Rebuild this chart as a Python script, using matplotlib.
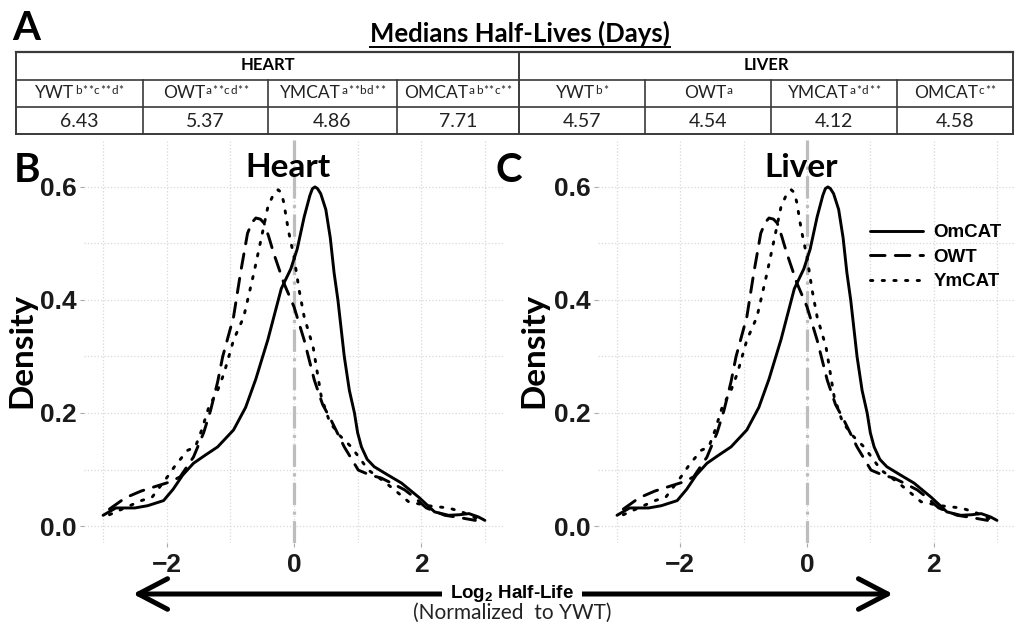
import matplotlib
matplotlib.use("Agg")
import matplotlib.pyplot as plt
from matplotlib.offsetbox import TextArea, HPacker, AnnotationBbox

# ---------------------------------------------------------------- data
groups = ["YWT", "OWT", "YMCAT", "OMCAT"]
heart_marks = ["b**c**d*", "a**cd**", "a**bd**", "ab**c**"]
liver_marks = ["b*", "a", "a*d**", "c**"]
heart_medians = [6.43, 5.37, 4.86, 7.71]
liver_medians = [4.57, 4.54, 4.12, 4.58]

# density of log2 half-life (normalised to YWT)
omcat_x = [-3.0, -2.8, -2.5, -2.3, -2.05, -1.9, -1.75, -1.58, -1.4, -1.2, -0.95,
           -0.76, -0.6, -0.41, -0.2, -0.05, 0.05, 0.16, 0.25, 0.29, 0.33, 0.37,
           0.42, 0.5, 0.57, 0.63, 0.69, 0.79, 0.87, 0.95, 1.0, 1.06, 1.15, 1.26,
           1.45, 1.69, 1.96, 2.21, 2.43, 2.6, 2.75, 2.9, 3.0]
omcat_y = [0.019, 0.032, 0.032, 0.036, 0.045, 0.065, 0.09, 0.111, 0.125, 0.14, 0.17,
           0.21, 0.26, 0.33, 0.42, 0.455, 0.49, 0.547, 0.585, 0.597, 0.6, 0.597,
           0.588, 0.56, 0.51, 0.448, 0.4, 0.3, 0.24, 0.2, 0.165, 0.14, 0.118, 0.105,
           0.092, 0.076, 0.051, 0.025, 0.019, 0.02, 0.022, 0.016, 0.01]

owt_x = [-2.9, -2.65, -2.4, -2.15, -1.95, -1.79, -1.58, -1.42, -1.31, -1.2, -1.12,
         -0.95, -0.84, -0.73, -0.66, -0.6, -0.53, -0.47, -0.4, -0.32, -0.16, 0.0,
         0.16, 0.32, 0.45, 0.58, 0.79, 1.01, 1.2, 1.37, 1.55, 1.74, 1.9, 2.08,
         2.37, 2.6, 2.85]
owt_y = [0.03, 0.05, 0.062, 0.071, 0.078, 0.087, 0.122, 0.165, 0.205, 0.255, 0.3,
         0.37, 0.448, 0.518, 0.537, 0.545, 0.543, 0.536, 0.513, 0.483, 0.43, 0.388,
         0.329, 0.258, 0.215, 0.188, 0.14, 0.099, 0.09, 0.085, 0.075, 0.064, 0.05,
         0.032, 0.019, 0.015, 0.01]

ymcat_x = [-2.9, -2.6, -2.4, -2.23, -1.99, -1.86, -1.67, -1.55, -1.45, -1.34, -1.2,
           -1.1, -0.95, -0.79, -0.63, -0.52, -0.41, -0.33, -0.25, -0.2, -0.16, -0.09,
           0.0, 0.08, 0.16, 0.3, 0.43, 0.56, 0.72, 0.9, 1.17, 1.4, 1.58, 1.8, 2.1,
           2.43, 2.64, 2.9]
ymcat_y = [0.02, 0.035, 0.045, 0.051, 0.087, 0.108, 0.134, 0.14, 0.17, 0.21, 0.24,
           0.27, 0.329, 0.37, 0.448, 0.506, 0.565, 0.585, 0.595, 0.59, 0.572, 0.524,
           0.476, 0.418, 0.37, 0.317, 0.228, 0.184, 0.16, 0.14, 0.099, 0.08, 0.064,
           0.043, 0.036, 0.032, 0.025, 0.012]

series = [("OmCAT", omcat_x, omcat_y, "-"),
          ("OWT", owt_x, owt_y, (0, (5, 3.5))),
          ("YmCAT", ymcat_x, ymcat_y, (0, (0.8, 3.2)))]

x_major = [-2, 0, 2]
x_minor = [-3, -1, 1, 3]
y_major = [0.0, 0.2, 0.4, 0.6]
y_minor = [0.1, 0.3, 0.5]

# ---------------------------------------------------------------- style
plt.rcParams["mathtext.fontset"] = "custom"
plt.rcParams["mathtext.rm"] = "Liberation Sans"
plt.rcParams["mathtext.bf"] = "Liberation Sans:bold"

SANS = "Lato"
ARIAL = "Liberation Sans"
INK = "#222222"
W, H = 1015, 628
fig = plt.figure(figsize=(W / 100, H / 100), dpi=100)

# pixel-space layer for the table, labels and the arrow
ov = fig.add_axes([0, 0, 1, 1], zorder=5)
ov.set_xlim(0, W)
ov.set_ylim(H, 0)
ov.axis("off")

# ---------------------------------------------------------------- panel A: table
ov.text(12, 40, "A", fontsize=29, fontweight="bold", family=SANS, va="baseline")
title = ov.text(520, 42, "Medians Half-Lives (Days)", fontsize=18.5, fontweight="bold",
                family=SANS, ha="center", va="baseline")
renderer = fig.canvas.get_renderer()
bb = title.get_window_extent(renderer).transformed(ov.transData.inverted())
ov.plot([bb.x0, bb.x1], [47, 47], color="black", lw=1.4)

top, r1, r2, bot = 52, 80, 107, 134
heart_cols = [16, 143, 268, 397, 519]
liver_cols = [519, 645, 771, 897, 1013]
lc = "#3a3a3a"
ov.plot([16, 1013], [top, top], color=lc, lw=1.6)
for y in (r1, r2):
    ov.plot([16, 1013], [y, y], color=lc, lw=1.2)
ov.plot([16, 1013], [bot, bot], color=lc, lw=1.4)
ov.plot([16, 16], [top, bot], color=lc, lw=1.4)
ov.plot([1013, 1013], [top, bot], color=lc, lw=1.4)
ov.plot([519, 519], [top, bot], color=lc, lw=1.4)
for cols in (heart_cols, liver_cols):
    for x in cols[1:-1]:
        ov.plot([x, x], [r1, bot], color=lc, lw=1.2)


def group_label(name, marks):
    """Group name followed by its significance superscript."""
    parts = [TextArea(name, textprops=dict(fontsize=12.5, family=SANS, color=INK))]
    sup = [TextArea(ch, textprops=dict(fontsize=8.5, family=SANS, color=INK)) for ch in marks]
    parts.append(HPacker(children=sup, align="top", pad=0, sep=0.5))
    return HPacker(children=parts, align="top", pad=0, sep=0.3)


for name, cols, marks, vals in (("HEART", heart_cols, heart_marks, heart_medians),
                                ("LIVER", liver_cols, liver_marks, liver_medians)):
    ov.text((cols[0] + cols[-1]) / 2, (top + r1) / 2 - 1, name, fontsize=12,
            fontweight="bold", family=SANS, ha="center", va="center")
    for i, (g, m, v) in enumerate(zip(groups, marks, vals)):
        cx = (cols[i] + cols[i + 1]) / 2
        ov.add_artist(AnnotationBbox(group_label(g, m), (cx, (r1 + r2) / 2 - 0.5),
                                     xycoords="data", frameon=False,
                                     box_alignment=(0.5, 0.5), pad=0))
        ov.text(cx, (r2 + bot) / 2 + 1, f"{v:.2f}", fontsize=14, family=SANS,
                color=INK, ha="center", va="center")

# ---------------------------------------------------------------- panels B and C
def density_panel(left_px, width_px, name, with_legend):
    ax = fig.add_axes([left_px / W, (H - 543) / H, width_px / W, 403 / H])
    ax.set_facecolor("none")
    ax.set_axisbelow(True)
    for label, xs, ys, ls in series:
        ax.plot(xs, ys, color="black", lw=2.1, ls=ls, label=label,
                dash_capstyle="round", solid_capstyle="round", solid_joinstyle="round")
    ax.axvline(0, color="#bdbdbd", lw=2.3, ls=(0, (7, 2, 1, 2)), zorder=1)
    ax.set_xlim(-3.3, 3.3)
    ax.set_ylim(-0.03, 0.683)
    ax.set_xticks(x_major)
    ax.set_xticks(x_minor, minor=True)
    ax.set_yticks(y_major)
    ax.set_yticks(y_minor, minor=True)
    ax.set_yticklabels([f"{v:.1f}" for v in y_major])
    for s in ax.spines.values():
        s.set_visible(False)
    ax.grid(which="both", color="#d8d8d8", ls=":", lw=0.9)
    ax.tick_params(which="major", length=3, width=0.8, color="#aaaaaa", pad=2)
    ax.tick_params(axis="x", which="major", pad=4)
    ax.tick_params(which="minor", length=0)
    for t in ax.get_xticklabels() + ax.get_yticklabels():
        t.set_fontfamily(ARIAL)
        t.set_fontweight("bold")
        t.set_fontsize(19)
        t.set_color("#1a1a1a")
    ax.text(0.486, (543 - 177) / 403, name, transform=ax.transAxes, ha="center",
            va="baseline", fontsize=24, fontweight="bold", family=SANS)
    if with_legend:
        ax.legend(loc="upper left",
                  bbox_to_anchor=((870 - left_px) / width_px, (543 - 224) / 403),
                  frameon=False, borderpad=0, borderaxespad=0, handlelength=2.85,
                  handletextpad=0.55, labelspacing=0.4,
                  prop=dict(family=ARIAL, weight="bold", size=13.5))
    return ax


density_panel(84, 420, "Heart", False)
density_panel(598, 418, "Liver", True)

for x, letter in ((14, "B"), (496, "C")):
    ov.text(x, 182, letter, fontsize=29, fontweight="bold", family=SANS, va="baseline")
for x in (22, 534):
    ov.text(x, 350, "Density", rotation=90, fontsize=24, fontweight="bold",
            family=SANS, ha="center", va="center")

# ---------------------------------------------------------------- shared x-axis arrow
ov.annotate("", xy=(133, 594), xytext=(893, 594),
            arrowprops=dict(arrowstyle="<->, head_length=1.05, head_width=0.55",
                            lw=3.6, color="black", mutation_scale=20,
                            shrinkA=0, shrinkB=0))
ov.text(512, 594, r"Log$_{\mathbf{2}}$ Half-Life", fontsize=13.5, fontweight="bold",
        family=ARIAL, ha="center", va="center",
        bbox=dict(boxstyle="square,pad=0.45", fc="white", ec="none"))
ov.text(512, 613, "(Normalized  to YWT)", fontsize=15, family=SANS, color=INK,
        ha="center", va="center")

fig.savefig("out.png", dpi=100, facecolor="white")
